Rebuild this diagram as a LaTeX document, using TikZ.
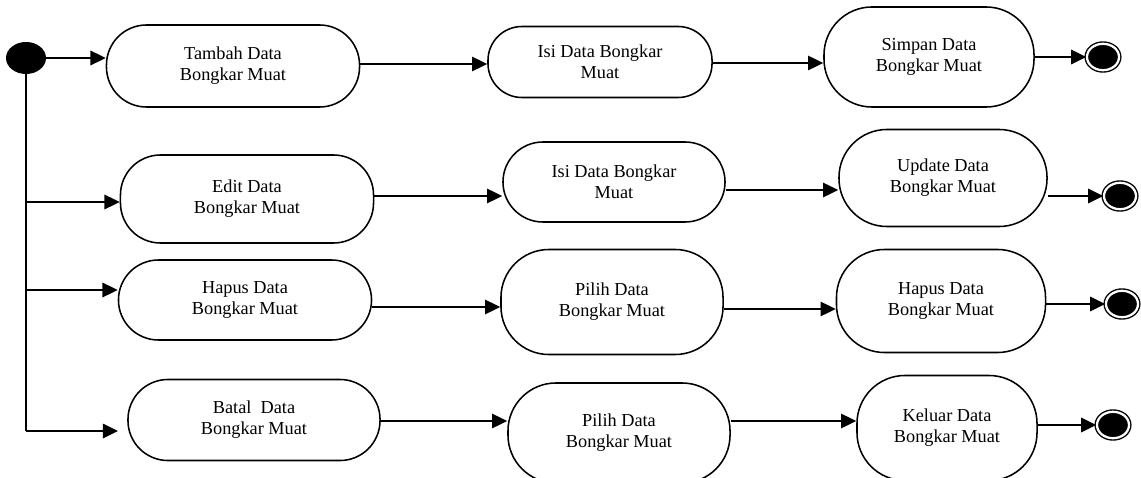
\documentclass[tikz,border=0pt]{standalone}
\usepackage{fontspec}
\setmainfont{Liberation Serif}
\usetikzlibrary{arrows.meta,shapes.geometric}

\begin{document}
\begin{tikzpicture}[x=0.025cm,y=-0.025cm]
\tikzstyle{every node}+=[inner sep=0pt,font=\fontsize{13}{15}\selectfont]
\tikzstyle{act}=[draw,line width=1.1pt,rounded corners=1cm,align=center]
\tikzstyle{flow}=[line width=1.4pt,-{Triangle[length=0.38cm,width=0.36cm]}]
\tikzstyle{endpt}=[ellipse,draw,fill=black,double=white,double distance=1.6pt,line width=1pt,minimum width=0.8cm,minimum height=0.66cm]
\useasboundingbox (0,0) rectangle (1141,478);
% start
\node [ellipse,fill=black,minimum width=1cm,minimum height=0.8cm] (start) at (26,58) {};
% row 1
\node [act,minimum width=6.325cm,minimum height=2.05cm] (tambah) at (233,66) {Tambah Data\\Bongkar Muat};
\node [act,rounded corners=0.85cm,minimum width=5.6cm,minimum height=1.775cm] (isiA) at (600,62) {Isi Data Bongkar\\Muat};
\node [act,rounded corners=1.2cm,minimum width=5.25cm,minimum height=2.5cm] (simpan) at (929,57) {Simpan Data\\Bongkar Muat};
\node [endpt] (endA) at (1103,57) {};
% row 2
\node [act,minimum width=6.325cm,minimum height=2.2cm] (edit) at (247,199) {Edit Data\\Bongkar Muat};
\node [act,minimum width=5.55cm,minimum height=2cm] (isiB) at (614,182) {Isi Data Bongkar\\Muat};
\node [act,rounded corners=1.2cm,minimum width=5.2cm,minimum height=2.425cm] (update) at (943,178) {Update Data\\Bongkar Muat};
\node [endpt] (endB) at (1120,196) {};
% row 3
\node [act,minimum width=6.325cm,minimum height=2cm] (hapus) at (245,300) {Hapus Data\\Bongkar Muat};
\node [act,rounded corners=1.2cm,minimum width=5.55cm,minimum height=2.625cm] (pilihA) at (612,302) {Pilih Data\\Bongkar Muat};
\node [act,rounded corners=1.2cm,minimum width=5.225cm,minimum height=2.575cm] (hapusB) at (941,301) {Hapus Data\\Bongkar Muat};
\node [endpt] (endC) at (1122,304) {};
% row 4
\node [act,minimum width=6.3cm,minimum height=2.025cm] (batal) at (254,420) {Batal\ \ Data\\Bongkar Muat};
\node [act,rounded corners=1.2cm,minimum width=5.55cm,minimum height=2.5cm] (pilihB) at (619,433) {Pilih Data\\Bongkar Muat};
\node [act,rounded corners=1.2cm,minimum width=4.5cm,minimum height=2.625cm] (keluar) at (947,428) {Keluar Data\\Bongkar Muat};
\node [endpt] (endD) at (1113,425) {};
\coordinate (batalin) at (118,431);
% fork
\draw [line width=1.4pt] (start.south) -- (start.south |- batalin);
\draw [flow] (start) -- (start -| tambah.west);
\draw [flow] (start.south |- 0,202) -- (edit.west |- 0,202);
\draw [flow] (start.south |- 0,290) -- (hapus.west |- 0,290);
\draw [flow] (start.south |- batalin) -- (batalin);
% flows
\draw [flow] (tambah.east |- 0,64) -- (isiA.west |- 0,64);
\draw [flow] (isiA.east |- 0,63) -- (simpan.west |- 0,63);
\draw [flow] (simpan.east |- endA) -- (endA);
\draw [flow] (edit.east |- 0,196) -- (isiB.west |- 0,196);
\draw [flow] (isiB.east |- 0,190) -- (update.west |- 0,190);
\draw [flow] (update.east |- endB) -- (endB);
\draw [flow] (hapus.east |- 0,307) -- (pilihA.west |- 0,307);
\draw [flow] (pilihA.east |- 0,309) -- (hapusB.west |- 0,309);
\draw [flow] (hapusB.east |- endC) -- (endC);
\draw [flow] (batal.east |- 0,421) -- (pilihB.west |- 0,421);
\draw [flow] (pilihB.east |- 0,421) -- (keluar.west |- 0,421);
\draw [flow] (keluar.east |- endD) -- (endD);
\end{tikzpicture}
\end{document}
